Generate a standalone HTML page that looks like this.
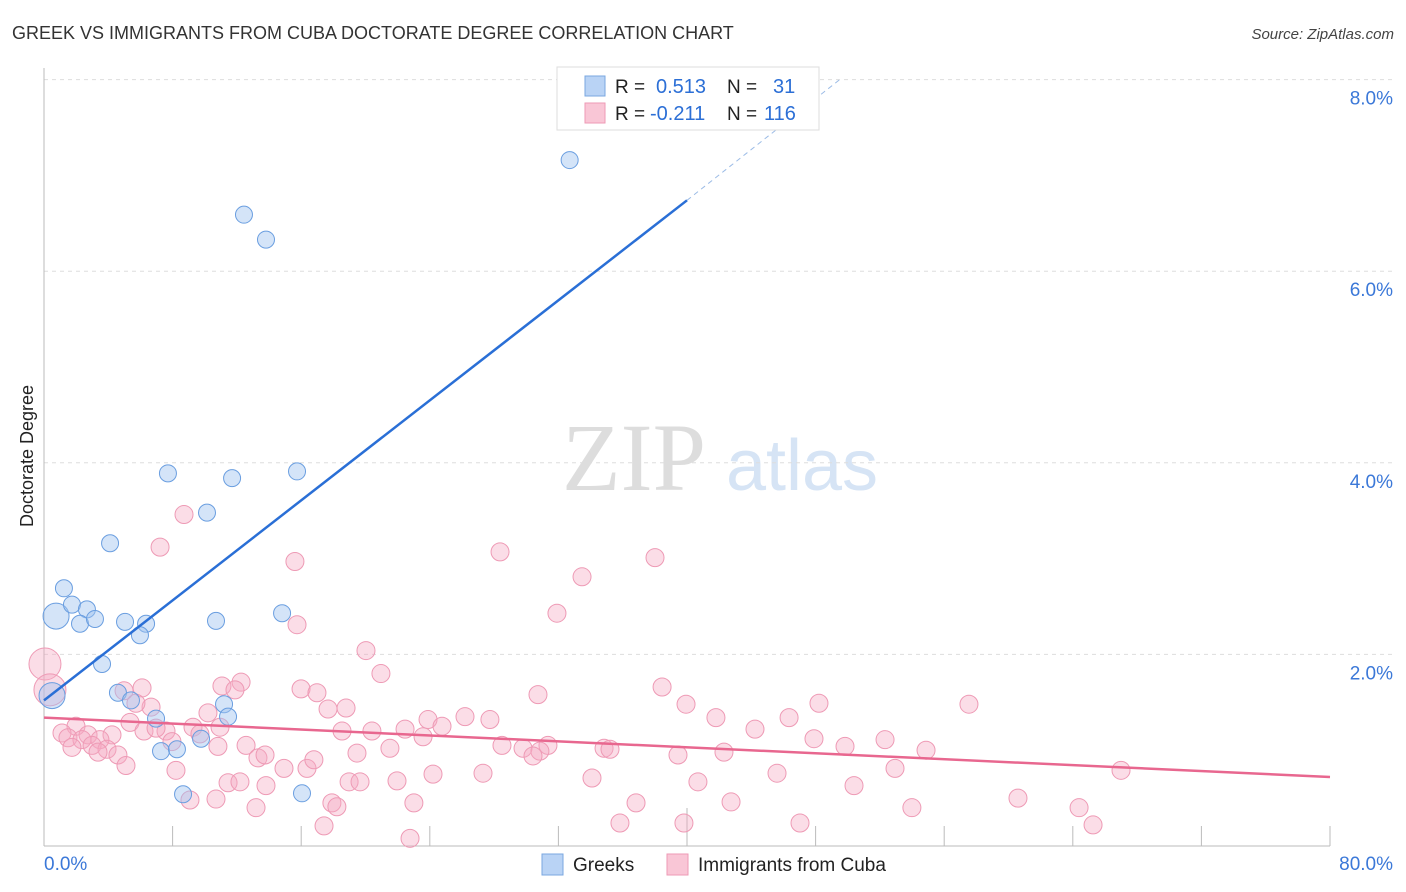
<!DOCTYPE html>
<html><head><meta charset="utf-8"><style>
body{margin:0;background:#fff;font-family:"Liberation Sans",sans-serif;}
#wrap{position:relative;width:1406px;height:892px;overflow:hidden}
</style></head><body>
<div id="wrap">
<svg id="svg" width="1406" height="892" xmlns="http://www.w3.org/2000/svg">
<text x="12" y="39" font-size="18" fill="#333">GREEK VS IMMIGRANTS FROM CUBA DOCTORATE DEGREE CORRELATION CHART</text>
<text x="1394" y="39" font-size="15" fill="#444" font-style="italic" text-anchor="end">Source: ZipAtlas.com</text>
<text transform="translate(33,456) rotate(-90)" font-size="18" fill="#222" text-anchor="middle">Doctorate Degree</text>
<g><text x="634" y="490" font-family="Liberation Serif,serif" font-size="96" fill="#ddd" text-anchor="middle">ZIP</text><text x="802" y="490" font-size="72" fill="#d6e4f5" text-anchor="middle">atlas</text></g>
<g id="grid"></g><g id="axes"></g><g id="pink"></g><g id="blue"></g><g id="lines"></g>
<g>
<rect x="557" y="67" width="262" height="63" fill="#fff" stroke="#ddd"/>
<rect x="585" y="76" width="20" height="20" fill="#b9d3f5" stroke="#7aa7e0"/>
<rect x="585" y="103" width="20" height="20" fill="#f9c6d6" stroke="#ee9ab5"/>
<text x="615" y="93" font-size="19" fill="#222">R =</text>
<text x="656" y="93" font-size="20" fill="#2c6fd6">0.513</text>
<text x="727" y="93" font-size="19" fill="#222">N =</text>
<text x="773" y="93" font-size="20" fill="#2c6fd6">31</text>
<text x="615" y="120" font-size="19" fill="#222">R =</text>
<text x="650" y="120" font-size="20" fill="#2c6fd6">-0.211</text>
<text x="727" y="120" font-size="19" fill="#222">N =</text>
<text x="764" y="120" font-size="20" fill="#2c6fd6">116</text>
</g>
<g>
<rect x="542" y="854" width="21" height="21" fill="#b9d3f5" stroke="#7aa7e0"/>
<text x="573" y="871" font-size="19" fill="#222">Greeks</text>
<rect x="667" y="854" width="21" height="21" fill="#f9c6d6" stroke="#ee9ab5"/>
<text x="698" y="871" font-size="19" fill="#222">Immigrants from Cuba</text>
</g>
</svg></div>
<script>
const xTicks=[0,80];
const yTicks=[2,4,6,8];
const blueX=[32.7,12.44,13.81,7.71,15.74,11.7,10.14,4.11,1.24,0.75,1.74,2.67,2.24,3.17,5.04,6.35,5.97,10.7,14.81,3.61,0.5,4.6,5.41,6.97,11.2,11.45,7.28,8.27,9.77,8.65,16.05];
const blueY=[7.16,6.59,6.33,3.89,3.91,3.84,3.48,3.16,2.69,2.4,2.52,2.47,2.32,2.37,2.34,2.32,2.2,2.35,2.43,1.9,1.57,1.6,1.52,1.33,1.48,1.35,0.99,1.01,1.12,0.54,0.55];
const pinkX=[0.06,0.37,8.71,7.22,15.61,28.37,38.01,33.47,31.91,15.74,20.03,20.96,12.26,11.07,11.88,6.1,4.98,15.99,16.98,30.73,38.45,57.54,48.21,39.94,17.67,18.79,6.66,5.72,10.2,26.19,27.74,23.89,41.8,46.35,5.35,1.99,9.27,7.59,10.95,24.76,22.46,20.4,18.54,44.23,1.12,2.74,4.23,6.22,6.97,9.7,23.58,47.9,52.32,1.49,2.36,3.48,7.96,12.57,1.74,2.99,3.92,4.6,3.36,10.82,13.31,13.75,21.52,19.47,28.49,29.8,31.35,30.85,30.42,34.84,35.21,39.44,42.3,49.83,54.87,5.1,8.21,14.93,16.36,16.79,24.2,27.31,34.09,40.68,45.6,52.94,67.0,11.45,12.19,13.81,18.98,19.66,21.96,50.39,9.08,10.7,13.19,17.91,18.22,23.01,36.83,42.74,53.99,60.59,64.39,17.42,22.77,35.83,39.81,47.03,65.26];
const pinkY=[1.9,1.63,3.46,3.12,2.97,3.07,3.01,2.81,2.43,2.31,2.04,1.8,1.71,1.67,1.63,1.65,1.62,1.64,1.6,1.58,1.66,1.48,1.49,1.48,1.43,1.44,1.45,1.49,1.39,1.35,1.32,1.32,1.34,1.34,1.29,1.25,1.24,1.2,1.24,1.25,1.22,1.2,1.2,1.22,1.18,1.16,1.16,1.2,1.23,1.17,1.14,1.12,1.11,1.13,1.11,1.11,1.09,1.05,1.03,1.05,1.01,0.95,0.98,1.04,0.92,0.95,1.02,0.97,1.05,1.02,1.05,0.99,0.94,1.02,1.01,0.95,0.98,1.04,1.0,0.84,0.79,0.81,0.81,0.9,0.75,0.76,0.71,0.67,0.76,0.81,0.79,0.66,0.67,0.63,0.67,0.67,0.68,0.63,0.48,0.49,0.4,0.45,0.41,0.45,0.45,0.46,0.4,0.5,0.4,0.21,0.08,0.24,0.24,0.24,0.22];
const blueTrend=[[0,1.52],[40,6.74]];
const blueDash=[[40,6.74],[49.5,8.0]];
const pinkTrend=[[0,1.34],[80,0.72]];
const X=v=>44+v*16.075, Y=v=>846-v*95.8;
const NS='http://www.w3.org/2000/svg';
function mk(p,tag,at){const e=document.createElementNS(NS,tag);for(const k in at)e.setAttribute(k,at[k]);document.getElementById(p).appendChild(e);return e;}
yTicks.forEach(t=>{
 const l=mk('grid','line',{x1:44,x2:1394,y1:Y(t),y2:Y(t),stroke:'#ddd','stroke-dasharray':'4,4'});
 
 
 const tx=mk('grid','text',{x:1393,y:Y(t)+25,'font-size':19,fill:'#3b78d8','text-anchor':'end'});tx.textContent=t.toFixed(1)+'%';
 
 
});
mk('axes','line',{x1:44,x2:44,y1:68,y2:846,stroke:'#bbb'});
mk('axes','line',{x1:44,x2:1330,y1:846,y2:846,stroke:'#bbb'});
for(let i=1;i<=10;i++){const v=i*8;const l=mk('axes','line',{x1:X(v),x2:X(v),y1:(i==5?808:826),y2:846,stroke:'#bbb'});
 
 }
xTicks.forEach((t,i)=>{const tx=mk('axes','text',{x:i?1393:44,y:870,'font-size':19,fill:'#3b78d8','text-anchor':i?'end':'start'});tx.textContent=t.toFixed(1)+'%';
 
 });
pinkX.forEach((v,i)=>{const big=i<2;const c=mk('pink','circle',{cx:X(v),cy:Y(pinkY[i]),r:big?16:9,fill:'rgba(246,170,195,0.4)',stroke:'#ee9ab5','stroke-width':1});
 
 });
blueX.forEach((v,i)=>{const big=(i==9||i==20);const c=mk('blue','circle',{cx:X(v),cy:Y(blueY[i]),r:big?13:8.5,fill:'rgba(160,195,240,0.45)',stroke:'#6a9ee0','stroke-width':1});
 
 });
const bl=mk('lines','line',{x1:X(blueTrend[0][0]),y1:Y(blueTrend[0][1]),x2:X(blueTrend[1][0]),y2:Y(blueTrend[1][1]),stroke:'#2a6fd6','stroke-width':2.5});


const bd=mk('lines','line',{x1:X(blueDash[0][0]),y1:Y(blueDash[0][1]),x2:X(blueDash[1][0]),y2:Y(blueDash[1][1]),stroke:'#9bbbe6','stroke-width':1,'stroke-dasharray':'5,4'});


const pl=mk('lines','line',{x1:X(pinkTrend[0][0]),y1:Y(pinkTrend[0][1]),x2:X(pinkTrend[1][0]),y2:Y(pinkTrend[1][1]),stroke:'#e8678f','stroke-width':2.5});


</script></body></html>
